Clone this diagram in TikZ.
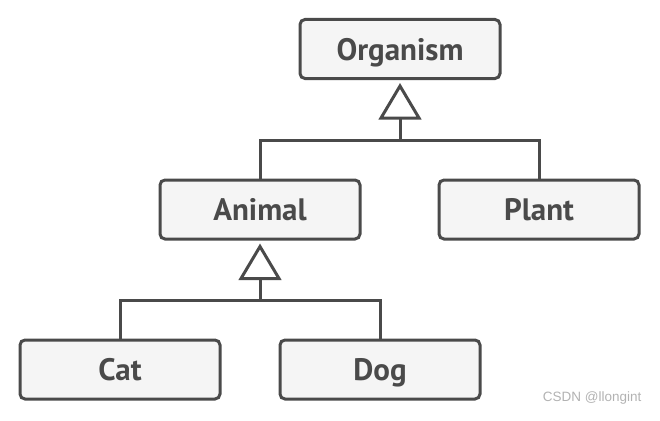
\documentclass[tikz,border=0pt]{standalone}
\usepackage{fontspec}
\setmainfont{PT Sans}
\newfontfamily\wmfont{Liberation Sans}
\definecolor{ink}{HTML}{4A4A4A}
\definecolor{boxfill}{HTML}{F5F5F5}
\begin{document}
\begin{tikzpicture}[x=1pt,y=-1pt,
  cls/.style={draw=ink, fill=boxfill, line width=3pt, rounded corners=5pt,
    minimum width=200pt, minimum height=59pt, inner sep=0pt,
    text height=22pt, text depth=0pt,
    font=\fontsize{31}{34}\selectfont\bfseries, text=ink},
  link/.style={draw=ink, line width=3pt},
  tri/.style={draw=ink, fill=white, line width=3pt, line join=miter}]
\useasboundingbox (0,0) rectangle (660,420);
\node[cls] (org) at (400,49) {Organism};
\node[cls] (ani) at (260,209.5) {Animal};
\node[cls] (pla) at (539,209.5) {Plant};
\node[cls] (cat) at (120,369.5) {Cat};
\node[cls] (dog) at (380,369.5) {Dog};
% inheritance Organism
\coordinate (t1) at (400,117);
\coordinate (j1) at (400,140);
\draw[link] (t1) -- (j1);
\draw[link] (ani.north) |- (j1) -| (pla.north);
\draw[tri] (org.south) ++(0,6) -- ++(-19,32) -- ++(38,0) -- cycle;
% inheritance Animal
\coordinate (t2) at (260,277);
\coordinate (j2) at (260,300);
\draw[link] (t2) -- (j2);
\draw[link] (cat.north) |- (j2) -| (dog.north);
\draw[tri] (ani.south) ++(0,6) -- ++(-19,32) -- ++(38,0) -- cycle;
\node[text=gray!60, font=\wmfont\fontsize{13.5}{15}\selectfont, anchor=east] (wm) at (645,398) {CSDN @llongint};
\end{tikzpicture}
\end{document}
